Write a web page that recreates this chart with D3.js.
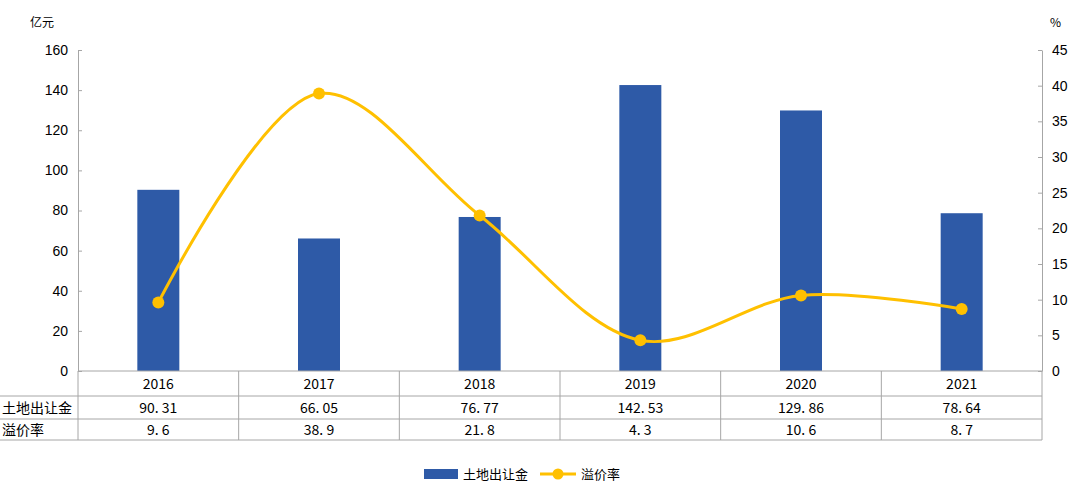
<!DOCTYPE html>
<html><head><meta charset="utf-8">
<script src="https://cdn.jsdelivr.net/npm/d3@7"></script>
<style>body{margin:0;background:#fff}</style>
</head><body><div id="viz"></div>
<script>
const years = ["2016", "2017", "2018", "2019", "2020", "2021"];
const landSales = [90.31, 66.05, 76.77, 142.53, 129.86, 78.64];
const premiumRate = [9.6, 38.9, 21.8, 4.3, 10.6, 8.7];
const leftTicks = [0, 20, 40, 60, 80, 100, 120, 140, 160];
const rightTicks = [0, 5, 10, 15, 20, 25, 30, 35, 40, 45];

const width = 1080, height = 484;
const margin = { top: 50, left: 78, right: 1042, bottom: 371 };
const barColor = "#2E5AA7", lineColor = "#FFC000", gridColor = "#A6A6A6";
const font = "'Noto Sans CJK SC', 'Liberation Sans', sans-serif";

const svg = d3.select("#viz").append("svg")
    .attr("width", width).attr("height", height)
    .style("font-family", font).style("font-size", "14px");

const x = d3.scaleBand().domain(years).range([margin.left, margin.right]);
const yL = d3.scaleLinear().domain([0, 160]).range([margin.bottom, margin.top]);
const yR = d3.scaleLinear().domain([0, 45]).range([margin.bottom, margin.top]);

// axes
const leftAxis = svg.append("g").attr("transform", `translate(${margin.left},0)`)
    .call(d3.axisLeft(yL).tickValues(leftTicks).tickSizeInner(-4).tickSizeOuter(0).tickPadding(10));
const rightAxis = svg.append("g").attr("transform", `translate(${margin.right},0)`)
    .call(d3.axisRight(yR).tickValues(rightTicks).tickSizeInner(-4).tickSizeOuter(0).tickPadding(10));
svg.selectAll(".domain, .tick line").attr("stroke", gridColor);
svg.selectAll(".tick text").attr("fill", "#000").style("font-size", "14px").style("font-family", "'Liberation Sans', sans-serif");

svg.append("text").attr("x", 30).attr("y", 27).attr("font-size", 12).text("亿元");
svg.append("text").attr("x", 1050).attr("y", 27).attr("font-size", 12).text("%");

// bars
const barW = 42;
svg.append("g").selectAll("rect").data(landSales).join("rect")
    .attr("x", (d, i) => x(years[i]) + x.bandwidth() / 2 - barW / 2)
    .attr("width", barW)
    .attr("y", d => yL(d))
    .attr("height", d => yL(0) - yL(d))
    .attr("fill", barColor);

// line
const pts = premiumRate.map((d, i) => [x(years[i]) + x.bandwidth() / 2, yR(d)]);
svg.append("path").attr("d", d3.line().curve(d3.curveCatmullRom.alpha(0.5))(pts))
    .attr("fill", "none").attr("stroke", lineColor).attr("stroke-width", 3);
svg.append("g").selectAll("circle").data(pts).join("circle")
    .attr("cx", d => d[0]).attr("cy", d => d[1]).attr("r", 6).attr("fill", lineColor);

// data table
const rowLines = [371, 396, 419, 440];
const table = svg.append("g").attr("stroke", gridColor).attr("stroke-width", 1);
rowLines.slice(1).forEach(yy => table.append("line").attr("x1", 0).attr("x2", margin.right).attr("y1", yy).attr("y2", yy));
table.append("line").attr("x1", margin.left).attr("x2", margin.right).attr("y1", 371).attr("y2", 371);
years.forEach(yr => table.append("line").attr("x1", x(yr)).attr("x2", x(yr)).attr("y1", 371).attr("y2", 440));
table.append("line").attr("x1", margin.right).attr("x2", margin.right).attr("y1", 371).attr("y2", 440);

const rows = [years, landSales.map(d => d.toFixed(2).replace(".", ". ")), premiumRate.map(d => d.toFixed(1).replace(".", ". "))];
rows.forEach((row, r) => {
    svg.append("g").selectAll("text").data(row).join("text")
        .attr("x", (d, i) => x(years[i]) + x.bandwidth() / 2)
        .attr("y", (rowLines[r] + rowLines[r + 1]) / 2 + 5)
        .attr("text-anchor", "middle").attr("font-size", 14)
        .text(d => d);
});
svg.append("text").attr("x", 2).attr("y", 413).attr("font-size", 14).text("土地出让金");
svg.append("text").attr("x", 2).attr("y", 435).attr("font-size", 14).text("溢价率");

// legend
const lg = svg.append("g").attr("font-size", 13);
lg.append("rect").attr("x", 424).attr("y", 469).attr("width", 34).attr("height", 10).attr("fill", barColor);
lg.append("text").attr("x", 463).attr("y", 479).text("土地出让金");
lg.append("line").attr("x1", 540).attr("x2", 576).attr("y1", 474).attr("y2", 474).attr("stroke", lineColor).attr("stroke-width", 3);
lg.append("circle").attr("cx", 558).attr("cy", 474).attr("r", 5.5).attr("fill", lineColor);
lg.append("text").attr("x", 581).attr("y", 479).text("溢价率");
</script></body></html>
